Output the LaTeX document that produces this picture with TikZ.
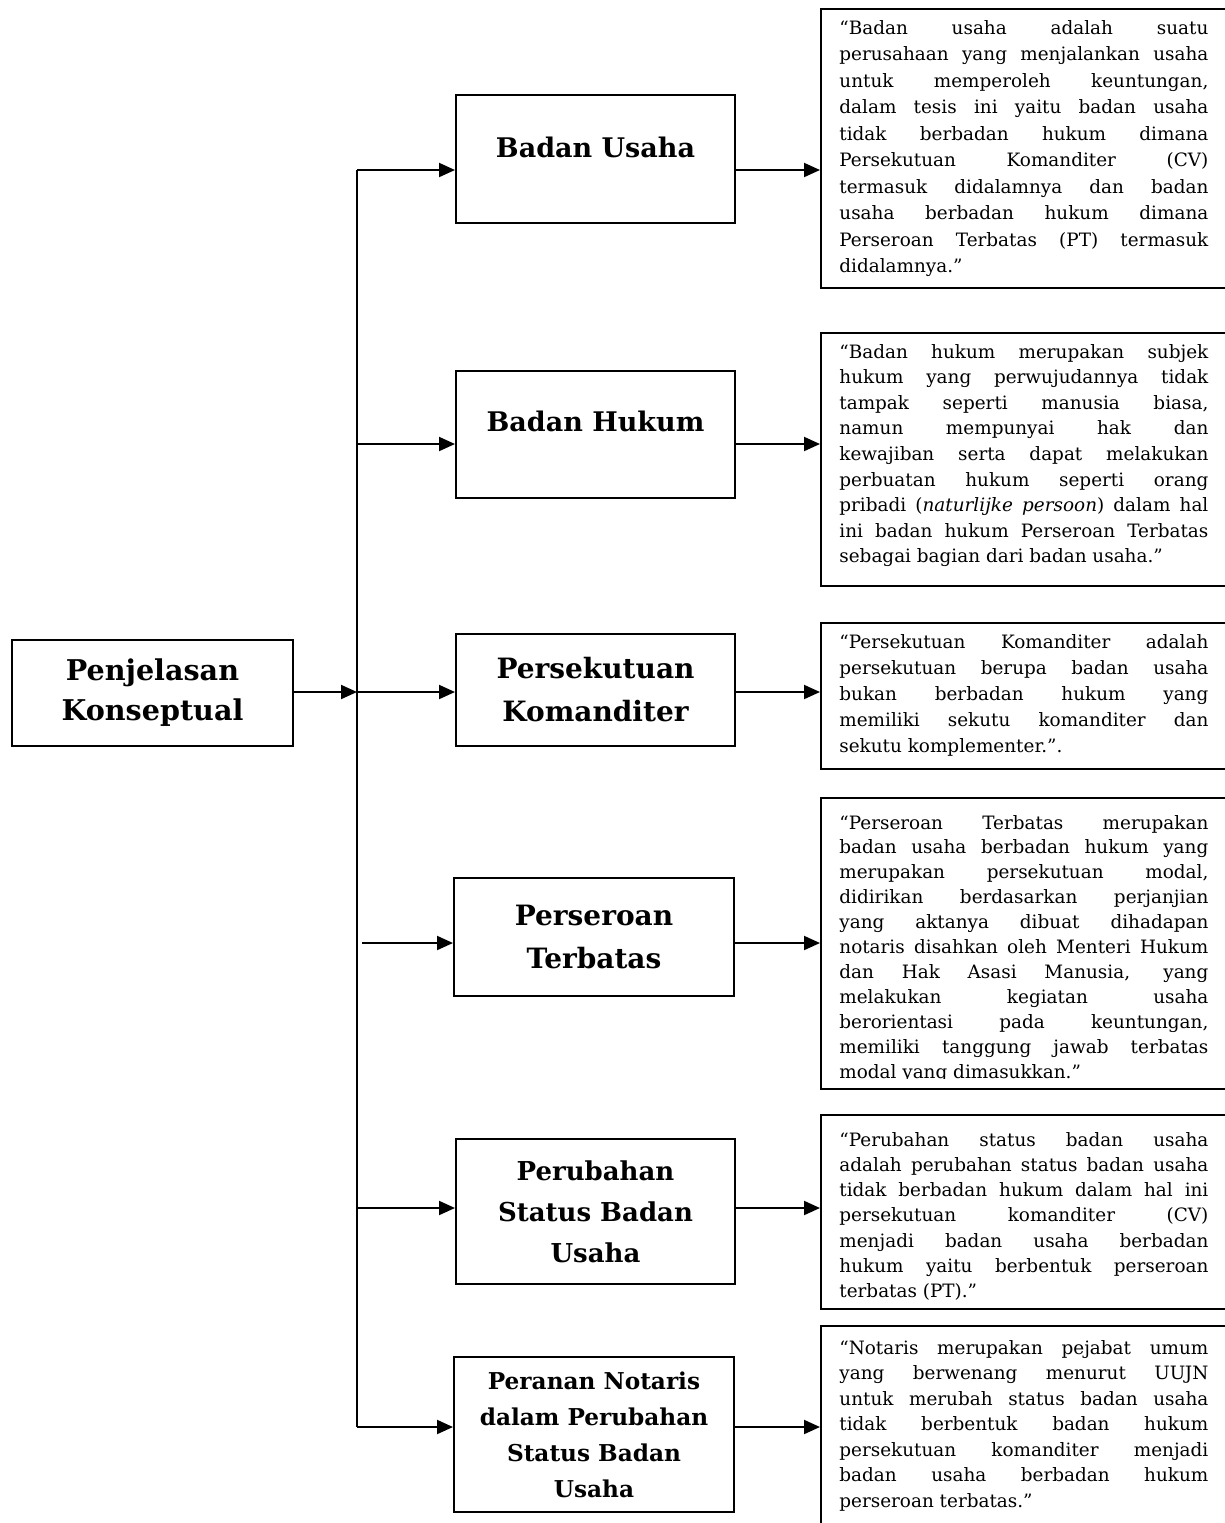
\documentclass[tikz,border=0pt]{standalone}
\usepackage{fontspec}
\setmainfont{DejaVu Serif}
\usetikzlibrary{arrows.meta}
\newcommand\jl[1]{\makebox[\linewidth][s]{#1}\par}
\newcommand\bodytext[2]{\parbox[t]{184.5pt}{\fontsize{9.2}{#1}\selectfont\parindent=0pt #2}}
\begin{document}
\begin{tikzpicture}[x=0.5pt,y=-0.5pt,
  ttl/.style={draw, line width=1pt, align=center, inner sep=0pt,
    font=\fontsize{13}{20.5}\selectfont\bfseries},
  txtbox/.style={draw, line width=1.2pt, anchor=north west, inner sep=0pt, minimum width=212.5pt},
  body/.style={anchor=base west, inner sep=0pt},
  conn/.style={line width=1pt, -{Triangle[length=8pt,width=7pt]}},
  trunk/.style={line width=1pt}]
\useasboundingbox (0,0) rectangle (1225,1523);
\clip (0,0) rectangle (1225,1523);

% left box
\node[ttl, minimum width=140.5pt, minimum height=53pt, font=\fontsize{14.3}{20}\selectfont\bfseries] (L) at (152.5,693) {Penjelasan\\Konseptual};

% middle boxes
\node[ttl, minimum width=139.5pt, minimum height=64pt, text depth=12pt, font=\fontsize{13.5}{20}\selectfont\bfseries] (m1) at (595.5,159) {Badan Usaha};
\node[ttl, minimum width=139.5pt, minimum height=63.5pt, text depth=13pt, font=\fontsize{13.5}{20}\selectfont\bfseries] (m2) at (595.5,434.5) {Badan Hukum};
\node[ttl, minimum width=139.5pt, minimum height=56pt, font=\fontsize{14}{21.5}\selectfont\bfseries] (m3) at (595.5,690) {Persekutuan\\Komanditer};
\node[ttl, minimum width=140pt, minimum height=59pt, font=\fontsize{14}{21.5}\selectfont\bfseries] (m4) at (594,937) {Perseroan\\Terbatas};
\node[ttl, minimum width=139.5pt, minimum height=72.5pt] (m5) at (595.5,1211.5) {Perubahan\\Status Badan\\Usaha};
\node[ttl, minimum width=140pt, minimum height=77.5pt, font=\fontsize{11.6}{18}\selectfont\bfseries] (m6) at (594,1434.5) {Peranan Notaris\\dalam Perubahan\\Status Badan\\Usaha};

% right boxes
\node[txtbox, minimum height=139.5pt] (r1) at (820,8) {};
\node[txtbox, minimum height=126.5pt] (r2) at (820,332) {};
\node[txtbox, minimum height=73pt] (r3) at (820,622) {};
\node[txtbox, minimum height=145.5pt] (r4) at (820,797) {};
\node[txtbox, minimum height=97pt] (r5) at (820,1114) {};
\node[txtbox, minimum height=110pt] (r6) at (820,1325) {};

% texts
\node[body] (t1) at (839,34) {\bodytext{13.25pt}{%
\jl{“Badan usaha adalah suatu}
\jl{perusahaan yang menjalankan usaha}
\jl{untuk memperoleh keuntungan,}
\jl{dalam tesis ini yaitu badan usaha}
\jl{tidak berbadan hukum dimana}
\jl{Persekutuan Komanditer (CV)}
\jl{termasuk didalamnya dan badan}
\jl{usaha berbadan hukum dimana}
\jl{Perseroan Terbatas (PT) termasuk}
didalamnya.”}};

\node[body] (t2) at (839,358) {\bodytext{12.8pt}{%
\jl{“Badan hukum merupakan subjek}
\jl{hukum yang perwujudannya tidak}
\jl{tampak seperti manusia biasa,}
\jl{namun mempunyai hak dan}
\jl{kewajiban serta dapat melakukan}
\jl{perbuatan hukum seperti orang}
\jl{pribadi (\textit{naturlijke persoon}) dalam hal}
\jl{ini badan hukum Perseroan Terbatas}
sebagai bagian dari badan usaha.”}};

\node[body] (t3) at (839,648) {\bodytext{13pt}{%
\jl{“Persekutuan Komanditer adalah}
\jl{persekutuan berupa badan usaha}
\jl{bukan berbadan hukum yang}
\jl{memiliki sekutu komanditer dan}
sekutu komplementer.”.}};

\begin{scope}
\clip (820,797) rectangle (1225,1078);
\node[body] (t4) at (839,829) {\bodytext{12.45pt}{%
\jl{“Perseroan Terbatas merupakan}
\jl{badan usaha berbadan hukum yang}
\jl{merupakan persekutuan modal,}
\jl{didirikan berdasarkan perjanjian}
\jl{yang aktanya dibuat dihadapan}
\jl{notaris disahkan oleh Menteri Hukum}
\jl{dan Hak Asasi Manusia, yang}
\jl{melakukan kegiatan usaha}
\jl{berorientasi pada keuntungan,}
\jl{memiliki tanggung jawab terbatas}
modal yang dimasukkan.”}};
\end{scope}

\begin{scope}
\clip (820,1114) rectangle (1225,1299);
\node[body] (t5) at (839,1146) {\bodytext{12.65pt}{%
\jl{“Perubahan status badan usaha}
\jl{adalah perubahan status badan usaha}
\jl{tidak berbadan hukum dalam hal ini}
\jl{persekutuan komanditer (CV)}
\jl{menjadi badan usaha berbadan}
\jl{hukum yaitu berbentuk perseroan}
terbatas (PT).”}};
\end{scope}

\node[body] (t6) at (839,1354) {\bodytext{12.75pt}{%
\jl{“Notaris merupakan pejabat umum}
\jl{yang berwenang menurut UUJN}
\jl{untuk merubah status badan usaha}
\jl{tidak berbentuk badan hukum}
\jl{persekutuan komanditer menjadi}
\jl{badan usaha berbadan hukum}
perseroan terbatas.”}};

% connector coordinates on trunk
\coordinate (a1) at (357,170);
\coordinate (a2) at (357,444);
\coordinate (a3) at (357,692);
\coordinate (a4) at (357,943);
\coordinate (a5) at (357,1208);
\coordinate (a6) at (357,1427);

\draw[trunk] (a1) -- (a6);
\draw[conn] (L.east |- a3) -- (a3);

\draw[conn] (a1) -- (a1 -| m1.west);
\draw[conn] (a2) -- (a2 -| m2.west);
\draw[conn] (a3) -- (a3 -| m3.west);
\draw[conn] ([xshift=2.5pt]a4) -- (a4 -| m4.west);
\draw[conn] (a5) -- (a5 -| m5.west);
\draw[conn] (a6) -- (a6 -| m6.west);

\draw[conn] (a1 -| m1.east) -- (a1 -| r1.west);
\draw[conn] (a2 -| m2.east) -- (a2 -| r2.west);
\draw[conn] (a3 -| m3.east) -- (a3 -| r3.west);
\draw[conn] (a4 -| m4.east) -- (a4 -| r4.west);
\draw[conn] (a5 -| m5.east) -- (a5 -| r5.west);
\draw[conn] (a6 -| m6.east) -- (a6 -| r6.west);
\end{tikzpicture}
\end{document}
